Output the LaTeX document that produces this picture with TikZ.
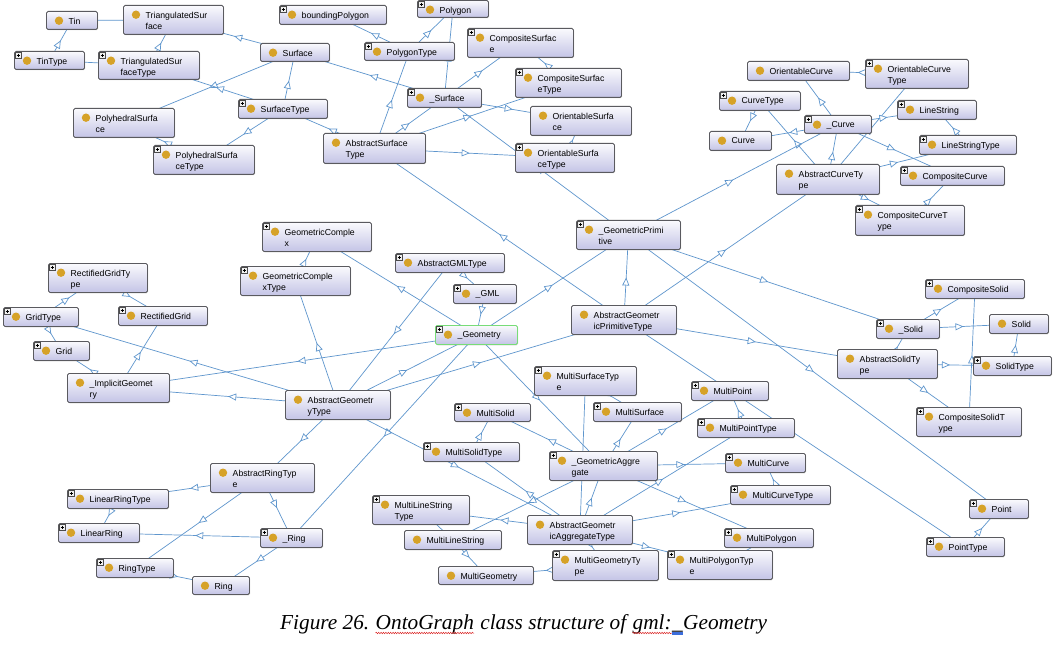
\documentclass[tikz,border=0pt]{standalone}
\usepackage{fontspec}
\setmainfont{Liberation Sans}
\newfontfamily\capfont{Liberation Serif}
\usetikzlibrary{arrows.meta,decorations.markings,decorations.pathmorphing,shadows}
\pgfdeclarelayer{bgl}
\pgfdeclarelayer{edges}
\pgfsetlayers{bgl,edges,main}
\definecolor{edgecol}{RGB}{95,150,205}
\definecolor{dotcol}{RGB}{214,162,40}
\definecolor{boxtop}{RGB}{250,250,253}
\definecolor{boxbot}{RGB}{196,196,230}
\definecolor{boxline}{RGB}{90,90,95}
\definecolor{selline}{RGB}{120,220,120}
\definecolor{wavered}{RGB}{220,40,40}
\definecolor{markblue}{RGB}{60,110,220}
\tikzset{
  cbox/.style={rectangle, rounded corners=1.5pt, draw=boxline, line width=0.9pt,
    top color=boxtop, bottom color=boxbot, inner sep=0pt,
    drop shadow={shadow xshift=0.6pt, shadow yshift=-0.8pt, opacity=0.35}},
  ctext/.style={inner sep=0pt, align=left, font=\fontsize{8.7}{11}\selectfont, anchor=north west},
  plusbox/.style={draw=gray!60!black, fill=gray!12, line width=0.35pt},
  edge/.style={draw=edgecol, line width=0.7pt, postaction=decorate,
    decoration={markings, mark=at position 0.5 with {\arrow{Triangle[length=8pt,width=7pt,fill=white]}}}},
  capt/.style={inner sep=0pt, anchor=base west, font=\capfont\itshape\fontsize{21.3}{25}\selectfont},
  wavy/.style={draw=wavered, line width=0.5pt, decorate, decoration={snake, amplitude=0.7pt, segment length=2.4pt}},
}
% optional style, name, x1, y1, x2, y2, text, plus(0/1)
\newcommand\cls[8][]{%
  \node[cbox,#1,minimum width={#5pt-#3pt},minimum height={#6pt-#4pt},anchor=north west] (#2) at (#3,#4) {};
  \fill[dotcol] ([shift={(13pt,-9.7pt)}]#2.north west) circle (4.2pt);
  \node[ctext] (#2t) at ([shift={(22.5pt,-6.6pt)}]#2.north west) {#7};
  \ifnum#8=1
    \draw[plusbox] ([shift={(1.5pt,-1.5pt)}]#2.north west) rectangle ++(5.5pt,-5.5pt);
    \draw[line width=0.5pt] ([shift={(2.6pt,-4.25pt)}]#2.north west) -- ++(3.3pt,0pt)
      ([shift={(4.25pt,-2.6pt)}]#2.north west) -- ++(0pt,-3.3pt);
  \fi
}
\begin{document}
\begin{tikzpicture}[x=1pt,y=-1pt]
\useasboundingbox (0,0) rectangle (1060,647);
\begin{pgfonlayer}{bgl}
\fill[white] (0,0) rectangle (1060,647);
\end{pgfonlayer}
% ---- surfaces
\cls{Tin}{46}{11}{97}{29}{Tin}{0}
\cls{TrSurf}{123}{5}{223}{34}{TriangulatedSur\\face}{0}
\cls{bPoly}{279}{5}{386}{24}{boundingPolygon}{1}
\cls{TinType}{14}{51}{84}{69}{TinType}{1}
\cls{TSType}{98}{51}{199}{79}{TriangulatedSur\\faceType}{1}
\cls{Surface}{260}{43}{329}{61}{Surface}{0}
\cls{SurfaceType}{238}{99}{327}{118}{SurfaceType}{1}
\cls{PolySurf}{73}{108}{174}{137}{PolyhedralSurfa\\ce}{0}
\cls{PST}{153}{145}{254}{174}{PolyhedralSurfa\\ceType}{1}
\cls{AST}{323}{133}{425}{163}{AbstractSurface\\Type}{0}
\cls{Polygon}{417}{0}{488}{17}{Polygon}{1}
\cls{PolygonType}{364}{42}{454}{60}{PolygonType}{1}
\cls{CompSurf}{467}{28}{573}{57}{CompositeSurfac\\e}{1}
\cls{CompSurfType}{515}{68}{621}{97}{CompositeSurfac\\eType}{1}
\cls{USurface}{407}{88}{481}{107}{\_Surface}{1}
\cls{OrSurf}{530}{106}{631}{135}{OrientableSurfa\\ce}{0}
\cls{OrSurfType}{515}{143}{614}{172}{OrientableSurfa\\ceType}{1}
% ---- curves
\cls{OrCurve}{747}{61}{849}{80}{OrientableCurve}{0}
\cls{OrCurveType}{865}{59}{968}{88}{OrientableCurve\\Type}{1}
\cls{CurveType}{719}{91}{800}{110}{CurveType}{1}
\cls{LineString}{897}{100}{976}{119}{LineString}{1}
\cls{UCurve}{804}{115}{871}{133}{\_Curve}{1}
\cls{Curve}{709}{131}{771}{150}{Curve}{0}
\cls{LSType}{919}{135}{1016}{154}{LineStringType}{1}
\cls{ACT}{776}{164}{879}{194}{AbstractCurveTy\\pe}{0}
\cls{CompCurve}{900}{166}{1004}{185}{CompositeCurve}{1}
\cls{CCType}{855}{205}{964}{235}{CompositeCurveT\\ype}{1}
% ---- middle
\cls{GeomComplex}{262}{222}{371}{251}{GeometricComple\\x}{1}
\cls{GCType}{240}{266}{350}{295}{GeometricComple\\xType}{1}
\cls{RGType}{48}{263}{147}{292}{RectifiedGridTy\\pe}{1}
\cls{GridType}{3}{307}{78}{326}{GridType}{1}
\cls{RGrid}{118}{306}{207}{325}{RectifiedGrid}{1}
\cls{Grid}{33}{341}{89}{360}{Grid}{1}
\cls{UIG}{67}{373}{169}{402}{\_ImplicitGeomet\\ry}{0}
\cls{AGT}{285}{390}{390}{419}{AbstractGeometr\\yType}{0}
\cls{AGMLT}{395}{253}{504}{272}{AbstractGMLType}{1}
\cls{UGML}{453}{284}{516}{303}{\_GML}{1}
\cls[draw=selline]{UGeometry}{435}{325}{517}{344}{\_Geometry}{1}
\cls{UGP}{576}{220}{680}{249}{\_GeometricPrimi\\tive}{1}
\cls{AGPT}{571}{305}{676}{334}{AbstractGeometr\\icPrimitiveType}{0}
\cls{MSuType}{534}{366}{636}{395}{MultiSurfaceTyp\\e}{1}
% ---- solids
\cls{CompSolid}{925}{279}{1024}{298}{CompositeSolid}{1}
\cls{USolid}{876}{319}{939}{338}{\_Solid}{1}
\cls{Solid}{989}{314}{1048}{333}{Solid}{0}
\cls{ASolT}{837}{349}{937}{378}{AbstractSolidTy\\pe}{0}
\cls{SolidType}{973}{356}{1051}{375}{SolidType}{1}
\cls{CSolT}{916}{407}{1021}{436}{CompositeSolidT\\ype}{1}
\cls{MPoint}{691}{381}{768}{400}{MultiPoint}{1}
\cls{MPType}{697}{418}{794}{437}{MultiPointType}{1}
% ---- rings
\cls{ART}{210}{463}{314}{492}{AbstractRingTyp\\e}{0}
\cls{LRType}{67}{489}{168}{508}{LinearRingType}{1}
\cls{LRing}{58}{523}{139}{542}{LinearRing}{1}
\cls{URing}{260}{528}{322}{547}{\_Ring}{1}
\cls{RingType}{96}{558}{173}{577}{RingType}{1}
\cls{Ring}{192}{576}{249}{594}{Ring}{0}
% ---- aggregates
\cls{MSolid}{454}{403}{530}{421}{MultiSolid}{1}
\cls{MSurface}{593}{402}{681}{421}{MultiSurface}{1}
\cls{MSType}{423}{442}{519}{461}{MultiSolidType}{1}
\cls{UGA}{549}{451}{657}{480}{\_GeometricAggre\\gate}{1}
\cls{MLSType}{372}{495}{469}{524}{MultiLineString\\Type}{1}
\cls{MLS}{404}{530}{501}{549}{MultiLineString}{0}
\cls{AGAT}{527}{515}{632}{544}{AbstractGeometr\\icAggregateType}{0}
\cls{MGeom}{438}{566}{533}{584}{MultiGeometry}{0}
\cls{MGType}{552}{550}{658}{580}{MultiGeometryTy\\pe}{1}
\cls{MPolyType}{667}{550}{772}{579}{MultiPolygonTyp\\e}{1}
\cls{MCurve}{725}{453}{805}{472}{MultiCurve}{1}
\cls{MCType}{730}{485}{830}{504}{MultiCurveType}{1}
\cls{MPolygon}{724}{528}{813}{547}{MultiPolygon}{1}
\cls{Point}{969}{499}{1028}{518}{Point}{1}
\cls{PointType}{926}{537}{1004}{556}{PointType}{1}
% ---- connectors
\begin{pgfonlayer}{edges}
\foreach \a/\b in {TrSurf/Tin, TinType/Tin, TSType/TinType, TSType/TrSurf, Surface/TrSurf,
  Surface/PolySurf, SurfaceType/TSType, SurfaceType/Surface, SurfaceType/PST, PST/PolySurf,
  AST/SurfaceType, USurface/Surface, PolygonType/bPoly, PolygonType/Polygon, USurface/Polygon,
  AST/PolygonType, USurface/CompSurf, CompSurfType/CompSurf, USurface/OrSurf, AST/USurface,
  AST/CompSurfType, AST/OrSurfType, OrSurfType/OrSurf, UGP/USurface, AGPT/AST,
  OrCurveType/OrCurve, UCurve/OrCurve, ACT/OrCurveType, CurveType/Curve, ACT/CurveType,
  UCurve/Curve, UCurve/LineString, LSType/LineString, ACT/UCurve, UCurve/CompCurve,
  ACT/LSType, ACT/CCType, CCType/CompCurve, UGP/UCurve, AGPT/ACT,
  AGPT/UGP, UGeometry/UGP, AGMLT/UGML, UGML/UGeometry, AGMLT/AGT, UGeometry/GeomComplex,
  UGeometry/UIG, AGT/GridType, AGT/UIG, GridType/RGType, RGType/RGrid, GridType/Grid,
  UIG/Grid, UIG/RGrid, GCType/GeomComplex, AGT/GCType, AGT/UGeometry, AGT/AGPT, AGT/ART,
  UGeometry/URing, AGT/AGAT, UGeometry/UGA,
  ART/LRType, LRType/LRing, ART/RingType, ART/URing, URing/LRing, URing/Ring, RingType/Ring,
  AGAT/MSuType, MSuType/MSurface, MSType/MSolid, UGA/MSolid, UGA/MSurface, UGA/MPoint,
  UGA/MCurve, AGAT/MPType, UGA/MPolygon, AGAT/MCType, AGAT/MPolyType, AGAT/UGA, AGAT/MGType,
  MGType/MGeom, AGAT/MLSType, MLSType/MLS, MLS/MGeom, UGA/MLS, AGAT/MSType,
  MPType/MPoint, MCType/MCurve, MPolyType/MPolygon, AGPT/PointType, PointType/Point, UGP/Point,
  UGP/USolid, AGPT/ASolT, USolid/CompSolid, USolid/Solid, ASolT/USolid, ASolT/SolidType,
  SolidType/Solid, ASolT/CSolT, CSolT/CompSolid}
  \draw[edge] (\a.center) -- (\b.center);
\end{pgfonlayer}
% ---- caption
\node[capt] (c1) at (280,629) {Figure 26.};
\node[capt] (c2) at ([xshift=6pt]c1.base east) {OntoGraph};
\node[capt] (c3) at ([xshift=6pt]c2.base east) {class structure of};
\node[capt] (c4) at ([xshift=6pt]c3.base east) {gml:};
\node[capt] (c5) at (c4.base east) {\_};
\node[capt] (c6) at (c5.base east) {Geometry};
\draw[wavy] ([yshift=-4pt]c2.base west) -- ([yshift=-4pt]c2.base east);
\draw[wavy] ([yshift=-4pt]c4.base west) -- ([yshift=-4pt]c4.base east);
\fill[markblue] ([yshift=-3pt]c5.base west) rectangle ([yshift=-5.5pt]c5.base east);
\end{tikzpicture}
\end{document}
